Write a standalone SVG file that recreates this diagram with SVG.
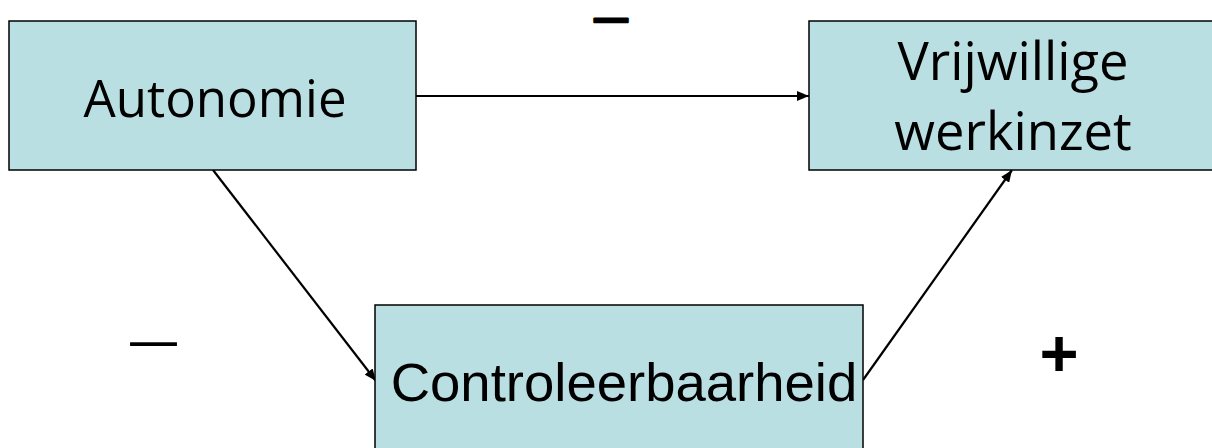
<svg xmlns="http://www.w3.org/2000/svg" width="1212" height="448" viewBox="0 0 1212 448">
<style>
.box{fill:#badfe3;stroke:#000;stroke-width:1.5}
.lbl{font-family:"Open Sans","Noto Sans",sans-serif;fill:#000;text-anchor:middle}
.arial{font-family:"Liberation Sans",Arial,sans-serif;font-size:54.5px;fill:#000;text-anchor:middle}
.edge{stroke:#000;stroke-width:2.2;fill:none;marker-end:url(#ah)}
.sign{font-family:"Liberation Sans",Arial,sans-serif;fill:#000;text-anchor:middle;font-weight:bold}
</style>
<defs>
<marker id="ah" viewBox="0 0 12 10" refX="12" refY="5" markerWidth="12" markerHeight="10" markerUnits="userSpaceOnUse" orient="auto">
<path d="M0,0 L12,5 L0,10 z" fill="#000"/>
</marker>
</defs>
<rect width="1212" height="448" fill="#fff"/>
<g id="connectors">
<line class="edge" x1="416" y1="96" x2="809" y2="96"/>
<line class="edge" x1="213" y1="170" x2="376" y2="381"/>
<line class="edge" x1="863" y1="380" x2="1012" y2="170"/>
</g>
<g id="autonomie">
<rect class="box" x="9" y="21" width="407" height="149"/>
<text class="lbl" x="215" y="117" font-size="51">Autonomie</text>
</g>
<g id="vrijwillige">
<rect class="box" x="809" y="21" width="410" height="149"/>
<text class="lbl" x="1013" y="80" font-size="52.5">Vrijwillige</text>
<text class="lbl" x="1013" y="150" font-size="52.5">werkinzet</text>
</g>
<g id="controleerbaarheid">
<rect class="box" x="375" y="305" width="488" height="150"/>
<text class="arial" x="624" y="401">Controleerbaarheid</text>
</g>
<g id="signs">
<text class="sign" x="611" y="28.5" font-size="33" stroke="#000" stroke-width="2.6" stroke-linejoin="round">—</text>
<text class="lbl" x="153.5" y="358" font-size="51">—</text>
<text class="sign" x="1059" y="376" font-size="67">+</text>
</g>
</svg>
